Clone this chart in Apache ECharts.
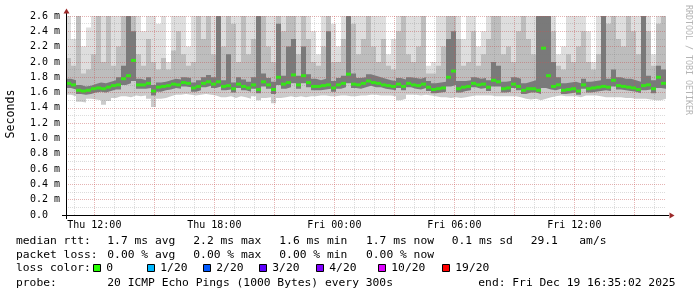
<!DOCTYPE html>
<html><head><meta charset="utf-8">
<script src="https://cdn.jsdelivr.net/npm/echarts@6/dist/echarts.min.js"></script>
<style>html,body{margin:0;padding:0;background:#fff}#c{width:697px;height:297px}</style>
</head><body><div id="c"></div>
<script>
// ---- data (ms), one value per 15-minute step, starting Thu 10:35:02 ----
const med = [1.72,1.70,1.63,1.62,1.63,1.65,1.66,1.65,1.67,1.69,
 1.70,1.78,1.82,2.02,1.70,1.70,1.72,1.62,1.67,1.68,
 1.69,1.71,1.70,1.73,1.72,1.66,1.68,1.72,1.74,1.71,
 1.74,1.68,1.69,1.65,1.71,1.68,1.66,1.70,1.64,1.74,
 1.70,1.64,1.80,1.71,1.73,1.83,1.70,1.82,1.73,1.68,
 1.68,1.69,1.70,1.66,1.70,1.72,1.84,1.71,1.70,1.72,
 1.75,1.73,1.72,1.70,1.69,1.68,1.71,1.68,1.72,1.70,
 1.69,1.71,1.67,1.64,1.65,1.66,1.80,1.88,1.65,1.67,
 1.68,1.72,1.70,1.71,1.67,1.76,1.74,1.65,1.66,1.71,
 1.68,1.63,1.65,1.65,1.63,2.18,1.82,1.68,1.70,1.63,
 1.64,1.65,1.62,1.70,1.65,1.66,1.67,1.68,1.67,1.76,
 1.69,1.68,1.67,1.66,1.64,1.69,1.70,1.65,1.80,1.72];
const minV = [1.57,1.55,1.48,1.47,1.52,1.51,1.50,1.44,1.49,1.53,
 1.55,1.55,1.54,1.56,1.55,1.56,1.52,1.41,1.52,1.53,
 1.55,1.57,1.57,1.58,1.57,1.56,1.57,1.58,1.57,1.56,
 1.54,1.54,1.55,1.53,1.55,1.54,1.52,1.55,1.50,1.53,
 1.54,1.46,1.53,1.54,1.55,1.54,1.55,1.54,1.55,1.55,
 1.56,1.56,1.55,1.55,1.56,1.56,1.55,1.55,1.56,1.56,
 1.57,1.57,1.56,1.56,1.56,1.55,1.50,1.52,1.57,1.57,
 1.56,1.57,1.56,1.55,1.54,1.54,1.53,1.54,1.53,1.54,
 1.55,1.56,1.56,1.56,1.56,1.55,1.55,1.55,1.55,1.55,
 1.54,1.52,1.51,1.52,1.50,1.52,1.54,1.55,1.56,1.55,
 1.55,1.55,1.54,1.56,1.56,1.56,1.55,1.54,1.54,1.54,
 1.54,1.53,1.53,1.52,1.52,1.52,1.51,1.50,1.50,1.52];
const lo = [1.66,1.64,1.58,1.57,1.58,1.60,1.61,1.60,1.62,1.64,
 1.64,1.70,1.72,1.75,1.65,1.65,1.66,1.56,1.61,1.63,
 1.64,1.66,1.65,1.68,1.67,1.61,1.63,1.67,1.69,1.66,
 1.68,1.63,1.64,1.60,1.66,1.63,1.61,1.65,1.59,1.68,
 1.65,1.58,1.70,1.65,1.67,1.72,1.65,1.72,1.67,1.63,
 1.63,1.64,1.65,1.61,1.65,1.67,1.72,1.66,1.65,1.67,
 1.69,1.67,1.67,1.65,1.64,1.63,1.66,1.63,1.67,1.65,
 1.64,1.66,1.62,1.59,1.60,1.61,1.68,1.70,1.60,1.62,
 1.63,1.67,1.65,1.66,1.62,1.68,1.68,1.60,1.61,1.66,
 1.63,1.58,1.60,1.60,1.58,1.66,1.64,1.63,1.65,1.58,
 1.59,1.60,1.57,1.65,1.60,1.61,1.62,1.63,1.62,1.68,
 1.64,1.63,1.62,1.61,1.59,1.63,1.64,1.59,1.66,1.65];
const hi = [1.78,1.76,1.70,1.68,1.69,1.71,1.73,1.72,1.74,1.76,
 1.80,1.95,2.70,2.40,1.78,1.76,1.80,1.70,1.73,1.74,
 1.76,1.78,1.77,1.80,1.79,1.73,1.76,1.80,1.83,1.80,
 2.70,1.76,2.10,1.73,1.80,1.77,1.74,1.80,2.70,1.85,
 1.79,1.74,2.50,1.82,2.20,2.30,1.82,2.20,1.84,1.78,
 1.76,1.78,2.40,1.75,1.79,1.82,2.70,1.85,1.79,1.80,
 1.84,1.82,1.80,1.78,1.76,1.75,1.79,1.77,1.80,1.79,
 1.78,1.80,1.75,1.72,1.73,1.74,2.30,2.40,1.75,1.75,
 1.76,1.80,1.78,1.79,1.76,2.00,1.95,1.74,1.75,1.80,
 1.78,1.72,1.74,1.76,2.70,2.70,2.70,2.00,1.80,1.72,
 1.73,1.74,1.72,1.78,1.74,1.75,1.76,2.70,1.78,1.90,
 1.80,1.78,1.78,1.76,1.74,2.70,1.82,1.76,1.95,1.90];
const p80 = [2.05,1.95,2.70,1.85,1.90,2.10,2.70,2.00,2.70,1.95,
 2.20,2.70,2.70,2.70,2.10,1.95,2.30,2.00,1.90,2.05,
 1.90,2.15,2.40,2.10,1.95,2.00,2.70,2.30,2.70,2.10,
 2.70,2.20,2.70,2.50,2.00,2.70,2.10,2.30,2.70,2.70,
 2.20,2.00,2.70,2.40,2.70,2.70,2.10,2.70,2.30,2.00,
 1.95,2.20,2.70,2.00,2.00,2.30,2.70,2.50,2.10,2.30,
 2.70,2.20,2.00,2.30,1.95,1.90,2.40,2.70,2.10,2.00,
 2.20,2.70,1.85,1.85,1.95,2.20,2.70,2.70,2.30,1.95,
 2.00,2.40,1.95,2.10,2.30,2.70,2.70,2.10,2.20,2.00,
 2.40,2.70,2.30,2.10,2.70,2.70,2.70,2.40,1.95,1.90,
 2.10,2.00,2.20,2.40,2.00,1.90,2.10,2.70,2.50,2.70,
 2.30,2.20,2.70,2.40,2.10,2.70,2.40,1.95,2.50,2.70];
const maxV = [2.70,2.30,2.70,2.20,2.45,2.70,2.70,2.70,2.70,2.70,
 2.70,2.70,2.70,2.70,2.70,2.40,2.70,2.70,2.50,2.70,
 2.00,2.70,2.70,2.70,2.20,2.70,2.70,2.70,2.70,2.70,
 2.70,2.70,2.70,2.70,2.70,2.70,2.70,2.70,2.70,2.70,
 2.70,2.70,2.70,2.70,2.70,2.70,2.70,2.70,2.70,2.40,
 2.10,2.70,2.70,2.50,2.20,2.70,2.70,2.70,2.70,2.70,
 2.70,2.70,2.70,2.70,2.10,2.30,2.70,2.70,2.70,2.70,
 2.70,2.70,1.95,2.00,2.70,2.70,2.70,2.70,2.70,2.30,
 2.70,2.70,2.20,2.40,2.70,2.70,2.70,2.70,2.70,2.70,
 2.70,2.70,2.70,2.70,2.70,2.70,2.70,2.70,2.10,2.20,
 2.70,2.70,2.70,2.70,2.40,2.00,2.70,2.70,2.70,2.70,
 2.70,2.70,2.70,2.70,2.70,2.70,2.70,2.10,2.70,2.70];

const startHour = 10 + 35/60 + 2/3600;   // Thu 10:35:02, hours from Thu 00:00
const stepHours = 0.25;
const spanHours = 30;
const xLabelHours = [12, 18, 24, 30, 36];
const xLabels = ['Thu 12:00', 'Thu 18:00', 'Fri 00:00', 'Fri 06:00', 'Fri 12:00'];
const yMax = 2.6;

const legendRtt = ['1.7 ms avg', '2.2 ms max', '1.6 ms min', '1.7 ms now', '0.1 ms sd'];
const legendLoss = ['0.00 % avg', '0.00 % max', '0.00 % min', '0.00 % now'];
const lossLabels = ['0', '1/20', '2/20', '3/20', '4/20', '10/20', '19/20'];
const lossColors = ['#26ff00', '#00b8ff', '#0059ff', '#5e00ff', '#7e00ff', '#dd00ff', '#ff0000'];

// ---- layout ----
const L = 66, T = 16, W = 600, H = 199;
const pxH = W / spanHours;
const xAt = h => L + (h - startHour) * pxH;
const MONO = 'DejaVu Sans Mono';
const FS = 11.3;
const colX = [107.3, 193.3, 279.3, 366, 451.7];
const lossSqX = [93, 147, 203, 259, 316, 378, 442];
const RED = 'rgba(255,60,60,0.26)';
const GRAY = 'rgba(120,120,120,0.26)';

function stepData(arr) {
  const d = arr.map((v, k) => [startHour + k * stepHours, v]);
  d.push([startHour + arr.length * stepHours, arr[arr.length - 1]]);
  return d;
}
function band(arr, color) {
  return { type: 'line', xAxisIndex: 0, yAxisIndex: 0, step: 'end', symbol: 'none', silent: true,
    data: stepData(arr), lineStyle: { width: 0, opacity: 0 },
    areaStyle: { color: color, opacity: 1, origin: 'start' }, animation: false };
}

const chart = echarts.init(document.getElementById('c'), null, { renderer: 'canvas' });
const grids = [
  { left: L, top: T, width: W, height: H },
  { left: xAt(11), top: T, width: (40 - 11) * pxH, height: H },
  { left: xAt(12), top: T, width: (39 - 12) * pxH, height: H },
  { left: xAt(12), top: T, width: (36 - 12) * pxH, height: H }
];
const hiddenY = i => ({ gridIndex: i, type: 'value', min: 0, max: 1, show: false });
const noAxis = { axisLine: { show: false }, axisTick: { show: false } };

const graphic = [];
// axis arrows & extensions
graphic.push({ type: 'line', shape: { x1: 62, y1: 215.5, x2: 669, y2: 215.5 }, style: { stroke: '#000', lineWidth: 1 }, z: 30 });
graphic.push({ type: 'line', shape: { x1: 66.5, y1: 13, x2: 66.5, y2: 219 }, style: { stroke: '#000', lineWidth: 1 }, z: 30 });
graphic.push({ type: 'polygon', shape: { points: [[66.5, 8.5], [63.5, 13.5], [69.5, 13.5]] }, style: { fill: '#9c2a2a' }, z: 31 });
graphic.push({ type: 'polygon', shape: { points: [[674.5, 215.5], [669.5, 212.5], [669.5, 218.5]] }, style: { fill: '#9c2a2a' }, z: 31 });
// titles
graphic.push({ type: 'text', x: 11, y: 114, rotation: Math.PI / 2,
  style: { text: 'Seconds', font: '11.6px "' + MONO + '"', fill: '#000', textAlign: 'center', textVerticalAlign: 'middle' } });
graphic.push({ type: 'text', x: 688, y: 60, rotation: -Math.PI / 2,
  style: { text: 'RRDTOOL / TOBI OETIKER', font: '8.3px "' + MONO + '"', fill: '#b4b4b4', textAlign: 'center', textVerticalAlign: 'middle' } });
const txt = (s, x, y) => ({ type: 'text', x: x, y: y,
  style: { text: s, font: FS + 'px "' + MONO + '"', fill: '#000', textAlign: 'left', textVerticalAlign: 'middle' } });
// legend line 1
graphic.push(txt('median rtt:', 16, 241));
legendRtt.forEach((s, i) => graphic.push(txt(s, colX[i], 241)));
graphic.push(txt('29.1', 530.7, 241));
graphic.push(txt('am/s', 579.3, 241));
// legend line 2
graphic.push(txt('packet loss:', 16, 255));
legendLoss.forEach((s, i) => graphic.push(txt(s, colX[i], 255)));
// legend line 3
graphic.push(txt('loss color:', 16, 268.5));
lossLabels.forEach((s, i) => {
  graphic.push({ type: 'rect', shape: { x: lossSqX[i] + 0.5, y: 264.5, width: 7, height: 7 },
    style: { fill: lossColors[i], stroke: '#000', lineWidth: 1 } });
  graphic.push(txt(s, lossSqX[i] + 13.3, 268.5));
});
// legend line 4
graphic.push(txt('probe:', 16, 282.7));
graphic.push(txt('20 ICMP Echo Pings (1000 Bytes) every 300s', 107.3, 282.7));
graphic.push(txt('end: Fri Dec 19 16:35:02 2025', 478.3, 282.7));

chart.setOption({
  animation: false,
  backgroundColor: '#fff',
  grid: grids,
  xAxis: [
    { gridIndex: 0, type: 'value', min: startHour, max: startHour + spanHours, z: 6,
      axisLine: { show: true, lineStyle: { color: '#000', width: 1 } }, axisTick: { show: false },
      axisLabel: { show: false }, splitLine: { show: false } },
    Object.assign({ gridIndex: 1, type: 'value', min: 11, max: 40, interval: 1, z: 4,
      axisLabel: { show: false },
      splitLine: { show: true, lineStyle: { color: GRAY, width: 1, type: [1, 1] } } }, noAxis),
    Object.assign({ gridIndex: 2, type: 'value', min: 12, max: 39, interval: 3, z: 5,
      axisLabel: { show: false },
      splitLine: { show: true, lineStyle: { color: RED, width: 1, type: [1, 1] } } }, noAxis),
    Object.assign({ gridIndex: 3, type: 'value', min: 12, max: 36, interval: 6, z: 5,
      splitLine: { show: false },
      axisLabel: { show: true, margin: 5, color: '#000', fontFamily: MONO, fontSize: 10,
        formatter: v => { const i = xLabelHours.indexOf(Math.round(v)); return i >= 0 ? xLabels[i] : ''; } } }, noAxis)
  ],
  yAxis: [
    { gridIndex: 0, type: 'value', min: 0, max: yMax, interval: 0.2, z: 6,
      axisLine: { show: true, lineStyle: { color: '#000', width: 1 } }, axisTick: { show: false },
      axisLabel: { margin: 6, color: '#000', fontFamily: MONO, fontSize: 10,
        formatter: v => Math.abs(v) < 1e-9 ? '0.0  ' : v.toFixed(1) + ' m' },
      splitLine: { show: true, showMinLine: true, lineStyle: { color: RED, width: 1, type: [1, 1] } } },
    { gridIndex: 0, type: 'value', min: 0, max: yMax, interval: 0.1, z: 4, position: 'left',
      axisLine: { show: false }, axisTick: { show: false }, axisLabel: { show: false },
      splitLine: { show: true, lineStyle: { color: GRAY, width: 1, type: [1, 1] } } },
    hiddenY(1), hiddenY(2), hiddenY(3)
  ],
  series: [
    band(maxV, '#dedede'),
    band(p80, '#bdbdbd'),
    band(hi, '#7a7a7a'),
    band(lo, '#cbcbcb'),
    band(minV, '#ffffff'),
    { type: 'scatter', xAxisIndex: 0, yAxisIndex: 0, symbol: 'rect', symbolSize: [5, 3], z: 20, silent: true,
      itemStyle: { color: lossColors[0] }, animation: false,
      data: med.map((v, k) => [startHour + (k + 0.5) * stepHours, v]) }
  ],
  graphic: graphic
});
</script></body></html>
